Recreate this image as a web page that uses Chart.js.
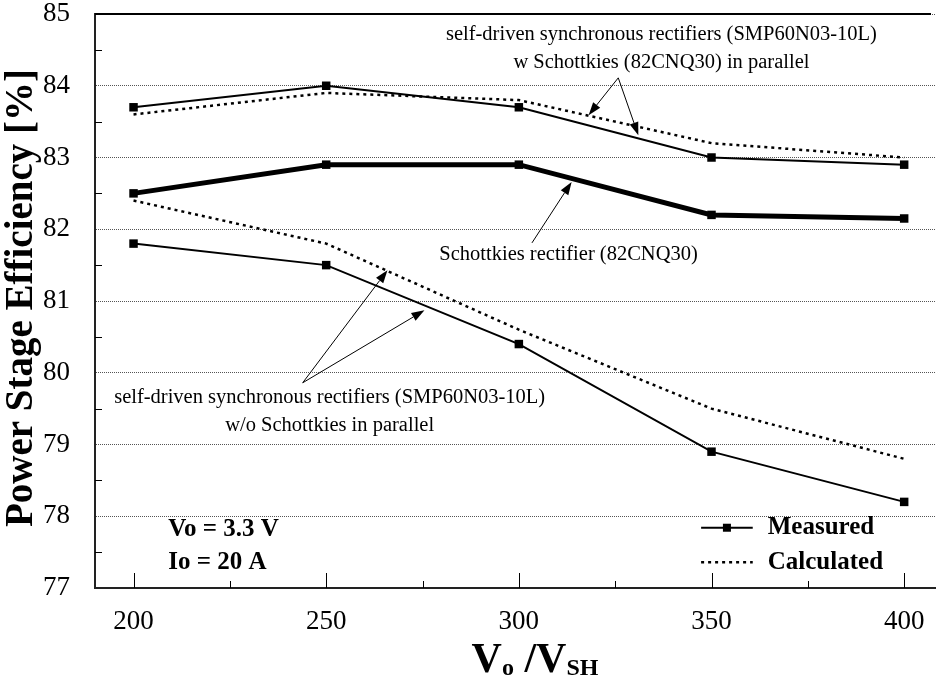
<!doctype html>
<html>
<head>
<title>Power Stage Efficiency</title>
<script src="https://cdn.jsdelivr.net/npm/chart.js@4.4.1/dist/chart.umd.min.js"></script>
<style>
  html, body { margin: 0; padding: 0; background: #fff; }
</style>
</head>
<body>
<canvas id="chart-area" width="941" height="686"></canvas>
<script>
// x values (Vo / Vsh) and efficiencies in %
var vsh = [200, 250, 300, 350, 400];
var wSchottkyMeasured = [83.7, 84.0, 83.7, 83.0, 82.9];
var wSchottkyCalculated = [83.6, 83.9, 83.8, 83.2, 83.0];
var schottkyMeasured = [82.5, 82.9, 82.9, 82.2, 82.15];
var woSchottkyMeasured = [81.8, 81.5, 80.4, 78.9, 78.2];
var woSchottkyCalculated = [82.4, 81.8, 80.6, 79.5, 78.8];
var xTicks = [200, 250, 300, 350, 400];
var xMinorTicks = [225, 275, 325, 375];
var yMinorTicks = [77.5, 78.5, 79.5, 80.5, 81.5, 82.5, 83.5, 84.5];

// notes placed in data units
var notes = [
  { text: 'self-driven synchronous rectifiers (SMP60N03-10L)', x: 337, y: 84.71 },
  { text: 'w Schottkies (82CNQ30) in parallel', x: 337, y: 84.32 },
  { text: 'Schottkies rectifier (82CNQ30)', x: 312.9, y: 81.64 },
  { text: 'self-driven synchronous rectifiers (SMP60N03-10L)', x: 250.9, y: 79.65 },
  { text: 'w/o Schottkies in parallel', x: 250.9, y: 79.27 }
];
var arrows = [
  { from: [325.8, 84.11], to: [318.1, 83.59] },
  { from: [325.8, 84.11], to: [331.0, 83.31] },
  { from: [303.4, 81.81], to: [313.7, 82.66] },
  { from: [243.9, 79.86], to: [265.9, 81.43] },
  { from: [243.9, 79.86], to: [275.5, 80.87] }
];
var conditions = [
  { text: 'Vo = 3.3 V', x: 209, y: 77.82 },
  { text: 'Io = 20 A', x: 209, y: 77.35 }
];

var serif = '"Liberation Serif", "DejaVu Serif", serif';

function pts(ys) {
  return vsh.map(function(x, i) { return { x: x, y: ys[i] }; });
}

var measuredStyle = {
  borderColor: '#000', backgroundColor: '#000', borderWidth: 2,
  pointStyle: 'rect', pointRadius: 6, pointBackgroundColor: '#000', pointBorderWidth: 0
};
var calcStyle = {
  borderColor: '#000', borderWidth: 2.5, borderDash: [3, 4], pointRadius: 0
};

var extras = {
  id: 'extras',
  afterDraw: function(chart) {
    var ctx = chart.ctx, xs = chart.scales.x, ys = chart.scales.y, a = chart.chartArea;
    ctx.save();
    ctx.strokeStyle = '#000';
    ctx.fillStyle = '#000';

    // top frame line
    ctx.lineWidth = 2;
    ctx.beginPath();
    ctx.moveTo(a.left, a.top);
    ctx.lineTo(a.right - 4, a.top);
    ctx.stroke();

    // inward tick marks
    ctx.lineWidth = 1;
    ctx.beginPath();
    xTicks.forEach(function(v) {
      var px = Math.round(xs.getPixelForValue(v)) + 0.5;
      ctx.moveTo(px, a.bottom); ctx.lineTo(px, a.bottom - 15);
    });
    xMinorTicks.forEach(function(v) {
      var px = Math.round(xs.getPixelForValue(v)) + 0.5;
      ctx.moveTo(px, a.bottom); ctx.lineTo(px, a.bottom - 7);
    });
    yMinorTicks.forEach(function(v) {
      var py = Math.round(ys.getPixelForValue(v)) + 0.5;
      ctx.moveTo(a.left, py); ctx.lineTo(a.left + 7, py);
    });
    ctx.stroke();

    // notes
    ctx.font = '20.5px ' + serif;
    ctx.textAlign = 'center';
    ctx.textBaseline = 'middle';
    notes.forEach(function(n) {
      ctx.fillText(n.text, xs.getPixelForValue(n.x), ys.getPixelForValue(n.y));
    });

    // arrows
    arrows.forEach(function(ar) {
      var x1 = xs.getPixelForValue(ar.from[0]), y1 = ys.getPixelForValue(ar.from[1]);
      var x2 = xs.getPixelForValue(ar.to[0]), y2 = ys.getPixelForValue(ar.to[1]);
      var ang = Math.atan2(y2 - y1, x2 - x1), L = 13, W = 4.5;
      ctx.lineWidth = 1;
      ctx.beginPath();
      ctx.moveTo(x1, y1);
      ctx.lineTo(x2 - L * Math.cos(ang), y2 - L * Math.sin(ang));
      ctx.stroke();
      ctx.beginPath();
      ctx.moveTo(x2, y2);
      ctx.lineTo(x2 - L * Math.cos(ang) + W * Math.sin(ang), y2 - L * Math.sin(ang) - W * Math.cos(ang));
      ctx.lineTo(x2 - L * Math.cos(ang) - W * Math.sin(ang), y2 - L * Math.sin(ang) + W * Math.cos(ang));
      ctx.closePath();
      ctx.fill();
    });

    // operating conditions
    ctx.font = 'bold 25px ' + serif;
    ctx.textAlign = 'left';
    conditions.forEach(function(c) {
      ctx.fillText(c.text, xs.getPixelForValue(c.x), ys.getPixelForValue(c.y));
    });

    // legend
    var lx1 = xs.getPixelForValue(347.3), lx2 = xs.getPixelForValue(360.7), tx = xs.getPixelForValue(364.6);
    var ly1 = ys.getPixelForValue(77.84), ly2 = ys.getPixelForValue(77.36);
    ctx.lineWidth = 2;
    ctx.beginPath(); ctx.moveTo(lx1, ly1); ctx.lineTo(lx2, ly1); ctx.stroke();
    ctx.fillRect((lx1 + lx2) / 2 - 4, ly1 - 4, 8, 8);
    ctx.lineWidth = 2.5;
    ctx.setLineDash([3, 4]);
    ctx.beginPath(); ctx.moveTo(lx1, ly2); ctx.lineTo(lx2, ly2); ctx.stroke();
    ctx.setLineDash([]);
    ctx.font = 'bold 25px ' + serif;
    ctx.fillText('Measured', tx, ly1);
    ctx.fillText('Calculated', tx, ly2);

    // y axis title
    ctx.save();
    ctx.translate(22, (a.top + a.bottom) / 2 - 3);
    ctx.rotate(-Math.PI / 2);
    ctx.font = 'bold 39px ' + serif;
    ctx.textAlign = 'center';
    ctx.fillText('Power Stage Efficiency [%]', 0, 0);
    ctx.restore();

    // x axis title with subscripts
    var parts = [
      { t: 'V', f: 'bold 42px ' + serif, dy: 0 },
      { t: 'o', f: 'bold 24px ' + serif, dy: 3 },
      { t: ' /V', f: 'bold 42px ' + serif, dy: 0 },
      { t: 'SH', f: 'bold 24px ' + serif, dy: 3 }
    ];
    var total = 0;
    parts.forEach(function(p) { ctx.font = p.f; p.w = ctx.measureText(p.t).width; total += p.w; });
    var cx = 535 - total / 2, base = 672;
    ctx.textBaseline = 'alphabetic';
    ctx.textAlign = 'left';
    parts.forEach(function(p) { ctx.font = p.f; ctx.fillText(p.t, cx, base + p.dy); cx += p.w; });
    ctx.restore();
  }
};

var config = {
  type: 'line',
  data: {
    datasets: [
      Object.assign({ label: 'w Schottkies measured', data: pts(wSchottkyMeasured) }, measuredStyle),
      Object.assign({ label: 'w Schottkies calculated', data: pts(wSchottkyCalculated) }, calcStyle),
      Object.assign({ label: 'Schottkies measured', data: pts(schottkyMeasured) }, measuredStyle, { borderWidth: 5 }),
      Object.assign({ label: 'w/o Schottkies measured', data: pts(woSchottkyMeasured) }, measuredStyle),
      Object.assign({ label: 'w/o Schottkies calculated', data: pts(woSchottkyCalculated) }, calcStyle)
    ]
  },
  options: {
    responsive: false,
    animation: false,
    devicePixelRatio: 1,
    layout: { padding: { top: 14, right: 3, left: 0, bottom: 0 } },
    plugins: { legend: { display: false }, tooltip: { enabled: false } },
    elements: { line: { tension: 0 } },
    scales: {
      x: {
        type: 'linear', min: 190, max: 408,
        afterBuildTicks: function(scale) { scale.ticks = xTicks.map(function(v) { return { value: v }; }); },
        afterFit: function(scale) { scale.height = 98; scale.paddingLeft = 0; scale.paddingRight = 0; },
        grid: { display: false },
        border: { display: true, color: '#222', width: 2 },
        ticks: { color: '#000', font: { family: serif, size: 27 }, padding: 10, maxRotation: 0 }
      },
      y: {
        min: 77, max: 85,
        afterFit: function(scale) { scale.width = 95; scale.paddingTop = 0; scale.paddingBottom = 0; },
        grid: { color: '#555', lineWidth: 1, drawTicks: false },
        border: { display: true, color: '#222', width: 2, dash: [1, 1] },
        ticks: { stepSize: 1, color: '#000', font: { family: serif, size: 27 }, padding: 25 }
      }
    }
  },
  plugins: [extras]
};

window.onload = function() {
  var ctx = document.getElementById('chart-area').getContext('2d');
  window.myChart = new Chart(ctx, config);
};
</script>
</body>
</html>
